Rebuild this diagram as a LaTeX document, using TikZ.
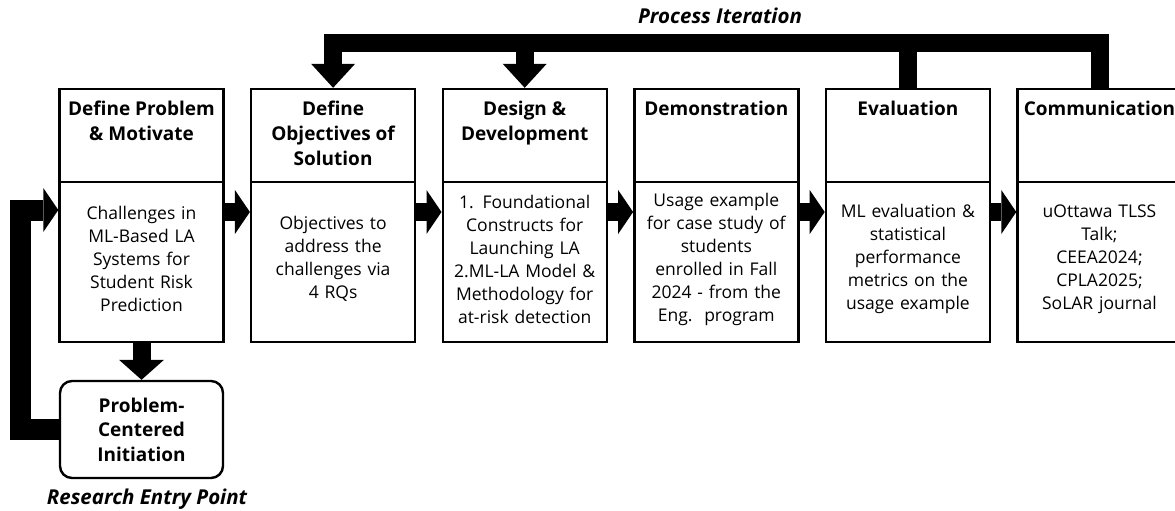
\documentclass[tikz,border=0pt]{standalone}
\usepackage{fontspec}
\setmainfont{Open Sans}
\usetikzlibrary{arrows.meta,calc}
\begin{document}
\begin{tikzpicture}[x=1pt,y=-1pt,
  boxline/.style={draw=black, line width=2.4pt},
  headbox/.style={boxline, minimum width=164pt, minimum height=93pt, inner sep=0pt},
  bodybox/.style={boxline, minimum width=164pt, minimum height=160pt, inner sep=0pt},
  bodytext/.style={inner sep=0pt, text width=160pt, align=center,
    font=\fontsize{17.5}{23}\selectfont},
  headtext/.style={anchor=north, inner sep=0pt, align=center,
    font=\fontsize{19}{25}\selectfont\bfseries},
  fat/.style={draw=black, line width=18pt, line join=miter, line cap=butt},
  hhead/.style={-{Triangle[length=15pt,width=44pt,line width=0pt]}},
  vhead/.style={-{Triangle[length=24pt,width=44pt,line width=0pt]}},
  note/.style={inner sep=0pt, font=\fontsize{20.5}{22}\selectfont\bfseries\itshape},
]
\useasboundingbox (0,0) rectangle (1175,511);

% stage boxes: header part and body part
\node[headbox] (h1) at (141.5,135.5) {};
\node[headbox] (h2) at (333.1,135.5) {};
\node[headbox] (h3) at (524.7,135.5) {};
\node[headbox] (h4) at (716.3,135.5) {};
\node[headbox] (h5) at (907.9,135.5) {};
\node[headbox] (h6) at (1099.5,135.5) {};

\node[headtext] (t1) at ($(h1.north)+(0,13)$) {Define Problem\\\& Motivate};
\node[headtext] (t2) at ($(h2.north)+(0,13)$) {Define\\Objectives of\\Solution};
\node[headtext] (t3) at ($(h3.north)+(0,13)$) {Design \&\\Development};
\node[headtext] (t4) at ($(h4.north)+(0,13)$) {Demonstration};
\node[headtext] (t5) at ($(h5.north)+(0,13)$) {Evaluation};
\node[headtext] (t6) at ($(h6.north)+(0,13)$) {Communication};

\node[bodybox] (b1) at (141.5,262) {};
\node[bodybox] (b2) at (333.1,262) {};
\node[bodybox] (b3) at (524.7,262) {};
\node[bodybox] (b4) at (716.3,262) {};
\node[bodybox] (b5) at (907.9,262) {};
\node[bodybox] (b6) at (1099.5,262) {};

\node[bodytext] (c1) at ($(b1.center)+(0,-3)$) {Challenges in\\ML-Based LA\\Systems for\\Student Risk\\Prediction};
\node[bodytext] (c2) at ($(b2.center)+(0,-3)$) {Objectives to\\address the\\challenges via\\4 RQs};
\node[bodytext] (c3) at ($(b3.center)+(0,-3)$) {1. Foundational\\Constructs for\\Launching LA\\2.ML-LA Model \&\\Methodology for\\at-risk detection};
\node[bodytext] (c4) at ($(b4.center)+(0,-3)$) {Usage example\\for case study of\\students\\enrolled in Fall\\2024 - from the\\Eng.~~program};
\node[bodytext] (c5) at ($(b5.center)+(0,-3)$) {ML evaluation \&\\statistical\\performance\\metrics on the\\usage example};
\node[bodytext] (c6) at ($(b6.center)+(0,-3)$) {uOttawa TLSS\\Talk;\\CEEA2024;\\CPLA2025;\\SoLAR journal};

% entry point box
\node[boxline, rounded corners=12pt, minimum width=163pt, minimum height=97pt,
  inner sep=0pt, align=center, font=\fontsize{19}{24.5}\selectfont\bfseries]
  (pci) at (141.5,429.5) {Problem-\\Centered\\Initiation};

% captions
\node[note] (iter) at (720,16) {Process Iteration};
\node[note] (entry) at (147,499) {Research Entry Point};

% forward flow between stages
\coordinate (row) at (0,212);
\draw[fat,hhead] (b1.east |- row) -- (b2.west |- row);
\draw[fat,hhead] (b2.east |- row) -- (b3.west |- row);
\draw[fat,hhead] (b3.east |- row) -- (b4.west |- row);
\draw[fat,hhead] (b4.east |- row) -- (b5.west |- row);
\draw[fat,hhead] (b5.east |- row) -- (b6.west |- row);

% iteration bar over the stages
\coordinate (bar) at (0,43);
\draw[fat,vhead] (h6.north) -- (h6.north |- bar) -- (h2.north |- bar) -- (h2.north);
\draw[fat] (h5.north) -- (h5.north |- bar);
\draw[fat,vhead] (h3.north |- bar) -- (h3.north);

% entry into the research loop
\draw[fat,-{Triangle[length=20pt,width=45pt,line width=0pt]}] (b1.south) -- (pci.north);
\coordinate (loopx) at (20,0);
\coordinate (fb) at (0,210);
\draw[fat,line width=21pt,hhead] (pci.west) -- (pci.west -| loopx) -- (loopx |- fb) -- (b1.west |- fb);
\end{tikzpicture}
\end{document}
